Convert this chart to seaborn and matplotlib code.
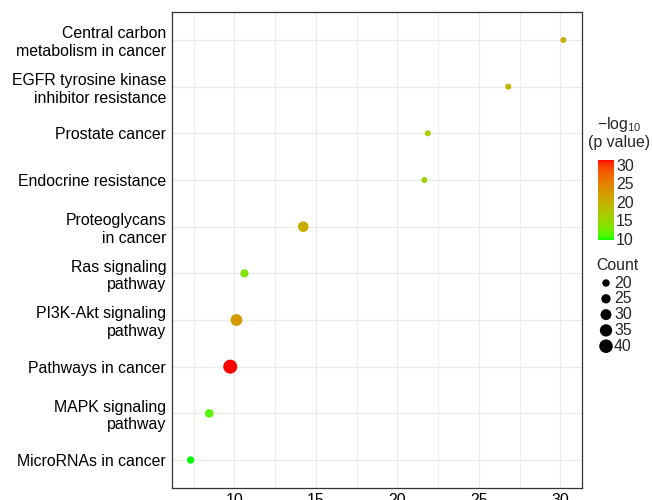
import numpy as np
import pandas as pd
import matplotlib
matplotlib.use("Agg")
import matplotlib.pyplot as plt
import seaborn as sns
from matplotlib.colors import ListedColormap, Normalize
from matplotlib.cm import ScalarMappable
from matplotlib.ticker import MultipleLocator

# KEGG enrichment results
terms = [
    "Central carbon\nmetabolism in cancer",
    "EGFR tyrosine kinase\ninhibitor resistance",
    "Prostate cancer",
    "Endocrine resistance",
    "Proteoglycans\nin cancer",
    "Ras signaling\npathway",
    "PI3K-Akt signaling\npathway",
    "Pathways in cancer",
    "MAPK signaling\npathway",
    "MicroRNAs in cancer",
]
enrichment = [30.18, 26.8, 21.86, 21.65, 14.22, 10.61, 10.12, 9.74, 8.45, 7.31]
neg_log10_p = [19.9, 19.6, 16.4, 16.0, 20.3, 13.6, 22.4, 31.3, 11.4, 9.7]
counts = [17, 17, 17, 17, 29, 22, 33, 42, 23, 20]

count_breaks = [20, 25, 30, 35, 40]
p_breaks = [10, 15, 20, 25, 30]

df = pd.DataFrame({"term": terms, "enrichment": enrichment,
                   "logp": neg_log10_p, "count": counts})

# ---- green -> red gradient interpolated in CIE Lab ----
_M = np.array([[0.4124, 0.3576, 0.1805],
               [0.2126, 0.7152, 0.0722],
               [0.0193, 0.1192, 0.9505]])
_WHITE = np.array([0.95047, 1.0, 1.08883])


def srgb_to_lab(c):
    c = np.asarray(c, float)
    lin = np.where(c <= 0.04045, c / 12.92, ((c + 0.055) / 1.055) ** 2.4)
    xyz = (_M @ lin) / _WHITE
    f = np.where(xyz > 0.008856, np.cbrt(xyz), 7.787 * xyz + 16 / 116)
    return np.array([116 * f[1] - 16, 500 * (f[0] - f[1]), 200 * (f[1] - f[2])])


def lab_to_srgb(lab):
    L, a, b = lab
    fy = (L + 16) / 116
    f = np.array([fy + a / 500, fy, fy - b / 200])
    xyz = np.where(f ** 3 > 0.008856, f ** 3, (f - 16 / 116) / 7.787) * _WHITE
    lin = np.clip(np.linalg.inv(_M) @ xyz, 0, 1)
    s = np.where(lin <= 0.0031308, 12.92 * lin, 1.055 * lin ** (1 / 2.4) - 0.055)
    return np.clip(s, 0, 1)


lab_lo = srgb_to_lab([0, 1, 0])
lab_hi = srgb_to_lab([1, 0, 0])
grad = [lab_to_srgb(lab_lo + t * (lab_hi - lab_lo)) for t in np.linspace(0, 1, 256)]
cmap = ListedColormap(grad)

# ---- style ----
sns.set_style("white")
plt.rcParams["font.family"] = ["Liberation Sans", "DejaVu Sans"]
plt.rcParams["mathtext.fontset"] = "custom"
plt.rcParams["mathtext.rm"] = "Liberation Sans"
FS = 11.4
W, H = 652, 500

fig = plt.figure(figsize=(W / 100, H / 100), dpi=100)
ax = fig.add_axes([172 / W, 12 / H, 410 / W, 476 / H])

p_min, p_max = min(neg_log10_p), max(neg_log10_p)
c_min, c_max = min(counts), max(counts)
size_range = (18.7, 101.6)


def marker_area(c):
    return size_range[0] + (c - c_min) / (c_max - c_min) * (size_range[1] - size_range[0])


sns.scatterplot(data=df, x="enrichment", y="term", hue="logp", size="count",
                palette=cmap, hue_norm=(p_min, p_max),
                sizes=size_range, size_norm=(c_min, c_max),
                linewidth=0, legend=False, ax=ax, zorder=3)

x_lo, x_hi = min(enrichment), max(enrichment)
pad = 0.05 * (x_hi - x_lo)
ax.set_xlim(x_lo - pad, x_hi + pad)
ax.set_ylim(len(terms) - 0.4, -0.6)
ax.xaxis.set_major_locator(MultipleLocator(5))
ax.xaxis.set_minor_locator(MultipleLocator(2.5))
ax.set_axisbelow(True)
ax.grid(which="major", color="#EBEBEB", lw=0.9)
ax.grid(which="minor", axis="x", color="#EBEBEB", lw=0.6)
for sp in ax.spines.values():
    sp.set_color("#333333")
    sp.set_linewidth(0.9)
ax.tick_params(which="major", length=2.2, width=0.6, color="#333333",
               labelsize=FS, labelcolor="black", pad=2)
ax.tick_params(which="minor", length=0)
ax.tick_params(axis="x", pad=1.5)
for lbl in ax.get_yticklabels():
    lbl.set_linespacing(1.2)
ax.set_xlabel("")
ax.set_ylabel("")

# ---- colour bar ----
fig.text(619.5 / W, 1 - 125 / H, "\u2212log$_{10}$", ha="center", va="center", fontsize=FS)
fig.text(619.5 / W, 1 - 143 / H, "(p value)", ha="center", va="center", fontsize=FS)
cax = fig.add_axes([598 / W, 1 - 240 / H, 16 / W, 80 / H])
sm = ScalarMappable(norm=Normalize(p_min, p_max), cmap=cmap)
cb = fig.colorbar(sm, cax=cax, ticks=p_breaks)
cb.outline.set_visible(False)
cax.tick_params(length=0, pad=1.5, labelsize=FS)

# ---- size legend ----
fig.text(596 / W, 1 - 265 / H, "Count", ha="left", va="center", fontsize=FS)
lax = fig.add_axes([590 / W, 1 - 356 / H, 62 / W, 82 / H])
lax.set_xlim(590, 652)
lax.set_ylim(356, 274)
lax.axis("off")
rows = [283 + i * 15.8 for i in range(len(count_breaks))]
lax.scatter([606] * len(count_breaks), rows,
            s=[marker_area(c) for c in count_breaks], color="black", linewidths=0)
for r, c in zip(rows, count_breaks):
    lax.text(614, r, str(c), ha="left", va="center", fontsize=FS)

fig.savefig("out.png", dpi=100)
